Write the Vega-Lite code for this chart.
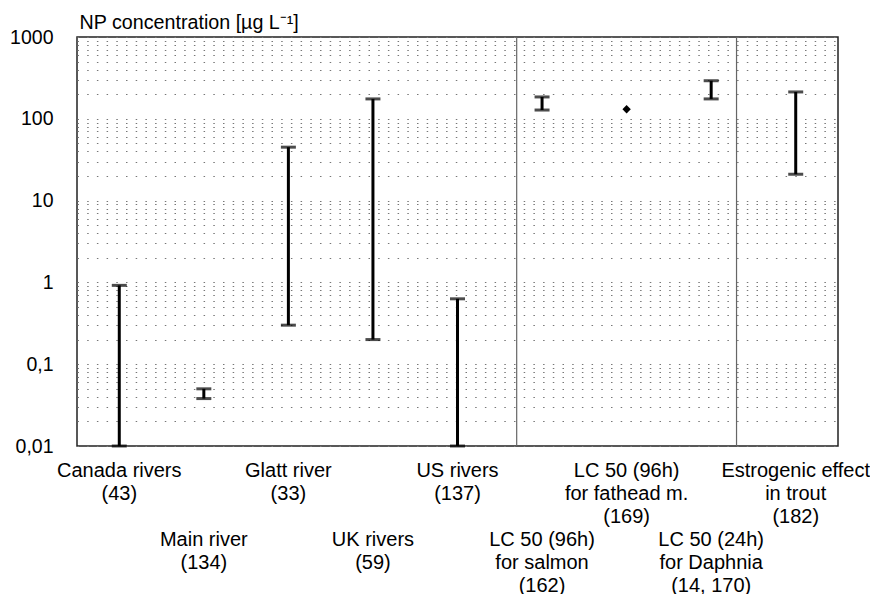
{
  "$schema": "https://vega.github.io/schema/vega-lite/v6.json",
  "autosize": {"type": "none"},
  "padding": {"left": 77, "top": 37, "right": 32, "bottom": 148},
  "width": 761,
  "height": 409,
  "background": "white",
  "config": {
    "view": {"stroke": "#222", "strokeWidth": 1.5},
    "font": "Liberation Sans"
  },
  "data": {
    "values": [
      {"category": "Canada rivers\n(43)", "lo": 0.01, "hi": 0.92},
      {"category": "Main river\n(134)", "lo": 0.038, "hi": 0.05},
      {"category": "Glatt river\n(33)", "lo": 0.3, "hi": 45},
      {"category": "UK rivers\n(59)", "lo": 0.2, "hi": 175},
      {"category": "US rivers\n(137)", "lo": 0.01, "hi": 0.63},
      {"category": "LC 50 (96h)\nfor salmon\n(162)", "lo": 128, "hi": 185},
      {"category": "LC 50 (96h)\nfor fathead m.\n(169)", "value": 131},
      {"category": "LC 50 (24h)\nfor Daphnia\n(14, 170)", "lo": 175, "hi": 292},
      {"category": "Estrogenic effect\nin trout\n(182)", "lo": 21, "hi": 213}
    ]
  },
  "encoding": {
    "x": {
      "field": "category",
      "type": "nominal",
      "scale": {
        "domain": [
          "Canada rivers\n(43)",
          "Main river\n(134)",
          "Glatt river\n(33)",
          "UK rivers\n(59)",
          "US rivers\n(137)",
          "LC 50 (96h)\nfor salmon\n(162)",
          "LC 50 (96h)\nfor fathead m.\n(169)",
          "LC 50 (24h)\nfor Daphnia\n(14, 170)",
          "Estrogenic effect\nin trout\n(182)"
        ],
        "paddingInner": 0,
        "paddingOuter": 0
      },
      "axis": {
        "title": null,
        "orient": "bottom",
        "domain": false,
        "ticks": false,
        "grid": false,
        "labelAngle": 0,
        "labelAlign": "center",
        "labelBaseline": "top",
        "labelPadding": 14,
        "labelFontSize": 20,
        "labelFont": "Liberation Sans",
        "labelColor": "black",
        "labelLineHeight": 23,
        "labelOverlap": false,
        "labelLimit": 0,
        "labelExpr": "split(((indexof(datum.value, 'Main') >= 0 || indexof(datum.value, 'UK') >= 0 || indexof(datum.value, 'salmon') >= 0 || indexof(datum.value, 'Daphnia') >= 0) ? '\u2800\\n\u2800\\n\u2800\\n' : '') + datum.value, '\\n')"
      }
    }
  },
  "layer": [
    {
      "transform": [{"filter": "datum.lo != null"}],
      "mark": {"type": "rule", "color": "black", "strokeWidth": 3},
      "encoding": {
        "y": {
          "field": "lo",
          "type": "quantitative",
          "scale": {"type": "log", "domain": [0.01, 1000], "nice": false},
          "axis": {
            "orient": "left",
            "title": "NP concentration [µg L⁻¹]",
            "titleAngle": 0,
            "titleAlign": "left",
            "titleBaseline": "alphabetic",
            "titleX": 2,
            "titleY": -9,
            "titleFontSize": 19.7,
            "titleFontWeight": "normal",
            "titleFont": "Liberation Sans",
            "titleColor": "black",
            "domain": false,
            "ticks": false,
            "labelPadding": 24,
            "labelFontSize": 19.5,
            "labelFont": "Liberation Sans",
            "labelColor": "black",
            "labelOverlap": false,
            "values": [0.01, 0.02, 0.03, 0.04, 0.05, 0.06, 0.07, 0.08, 0.09,
                       0.1, 0.2, 0.3, 0.4, 0.5, 0.6, 0.7, 0.8, 0.9,
                       1, 2, 3, 4, 5, 6, 7, 8, 9,
                       10, 20, 30, 40, 50, 60, 70, 80, 90,
                       100, 200, 300, 400, 500, 600, 700, 800, 900, 1000],
            "labelExpr": "abs(log(datum.value)/LN10 - round(log(datum.value)/LN10)) < 1e-6 ? (datum.value >= 1 ? format(datum.value, 'd') : replace(format(datum.value, '~g'), '.', ',')) : ''",
            "grid": true,
            "gridColor": "#777",
            "gridWidth": 1,
            "gridOpacity": 1,
            "gridDash": [1.5, 8.2]
          }
        },
        "y2": {"field": "hi"}
      }
    },
    {
      "transform": [{"filter": "datum.lo != null"}],
      "mark": {"type": "tick", "orient": "horizontal", "color": "black", "size": 15, "thickness": 3},
      "encoding": {"y": {"field": "lo", "type": "quantitative"}}
    },
    {
      "transform": [{"filter": "datum.hi != null"}],
      "mark": {"type": "tick", "orient": "horizontal", "color": "black", "size": 15, "thickness": 3},
      "encoding": {"y": {"field": "hi", "type": "quantitative"}}
    },
    {
      "transform": [{"filter": "datum.value != null"}],
      "mark": {"type": "point", "shape": "diamond", "filled": true, "color": "black", "size": 70, "opacity": 1},
      "encoding": {"y": {"field": "value", "type": "quantitative"}}
    },
    {
      "data": {"values": [{"category": "LC 50 (96h)\nfor salmon\n(162)"}]},
      "mark": {"type": "rule", "color": "#666", "strokeWidth": 1.2},
      "encoding": {"x": {"field": "category", "type": "nominal", "bandPosition": 0.2}}
    },
    {
      "data": {"values": [{"category": "LC 50 (24h)\nfor Daphnia\n(14, 170)"}]},
      "mark": {"type": "rule", "color": "#666", "strokeWidth": 1.2},
      "encoding": {"x": {"field": "category", "type": "nominal", "bandPosition": 0.8}}
    }
  ]
}
